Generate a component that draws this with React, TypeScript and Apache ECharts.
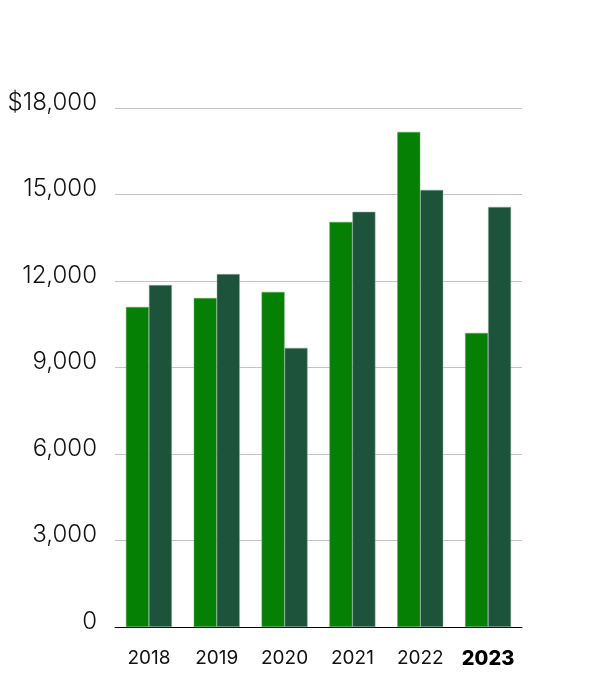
import React, { useEffect, useRef } from "react";
import * as echarts from "echarts";

const years = ["2018", "2019", "2020", "2021", "2022", "2023"];
const seriesA = [11100, 11410, 11620, 14050, 17170, 10200];
const seriesB = [11860, 12240, 9680, 14400, 15160, 14570];

export default function App() {
  const ref = useRef<HTMLDivElement>(null);
  useEffect(() => {
    if (!ref.current) return;
    const chart = echarts.init(ref.current, null, { renderer: "svg" });
    chart.setOption({
      animation: false,
      grid: { left: 115, right: 78, top: 108, bottom: 73 },
      xAxis: {
        type: "category",
        data: years,
        axisLine: { show: true, lineStyle: { color: "#000", width: 1 } },
        axisTick: { show: false },
        axisLabel: {
          interval: 0,
          margin: 21,
          fontFamily: "Inter",
          fontSize: 19,
          color: "#111",
          formatter: (v: string) => (v === "2023" ? "{b|" + v + "}" : v),
          rich: { b: { fontFamily: "Inter", fontSize: 20, fontWeight: 800, color: "#000" } },
        },
      },
      yAxis: {
        type: "value",
        min: 0,
        max: 18000,
        interval: 3000,
        axisLine: { show: false },
        axisTick: { show: false },
        splitLine: { lineStyle: { color: "#c4c4c4", width: 1 } },
        axisLabel: {
          margin: 18,
          fontFamily: "Inter",
          fontWeight: 300,
          fontSize: 24,
          color: "#111",
          verticalAlign: "bottom",
          lineHeight: 14,
          formatter: (v: number) =>
            v === 18000 ? "$18,000" : v.toLocaleString("en-US"),
        },
      },
      series: [
        {
          type: "bar",
          data: seriesA,
          barWidth: 23,
          barGap: "0%",
          itemStyle: { color: "#058005", borderColor: "#5fae5f", borderWidth: 0.5 },
        },
        {
          type: "bar",
          data: seriesB,
          barWidth: 23,
          barGap: "0%",
          itemStyle: { color: "#1c533a", borderColor: "#8fb09f", borderWidth: 0.5 },
        },
      ],
    });
    return () => chart.dispose();
  }, []);
  return (
    <div
      ref={ref}
      style={{ position: "fixed", left: 0, top: 0, width: 600, height: 700 }}
    />
  );
}
